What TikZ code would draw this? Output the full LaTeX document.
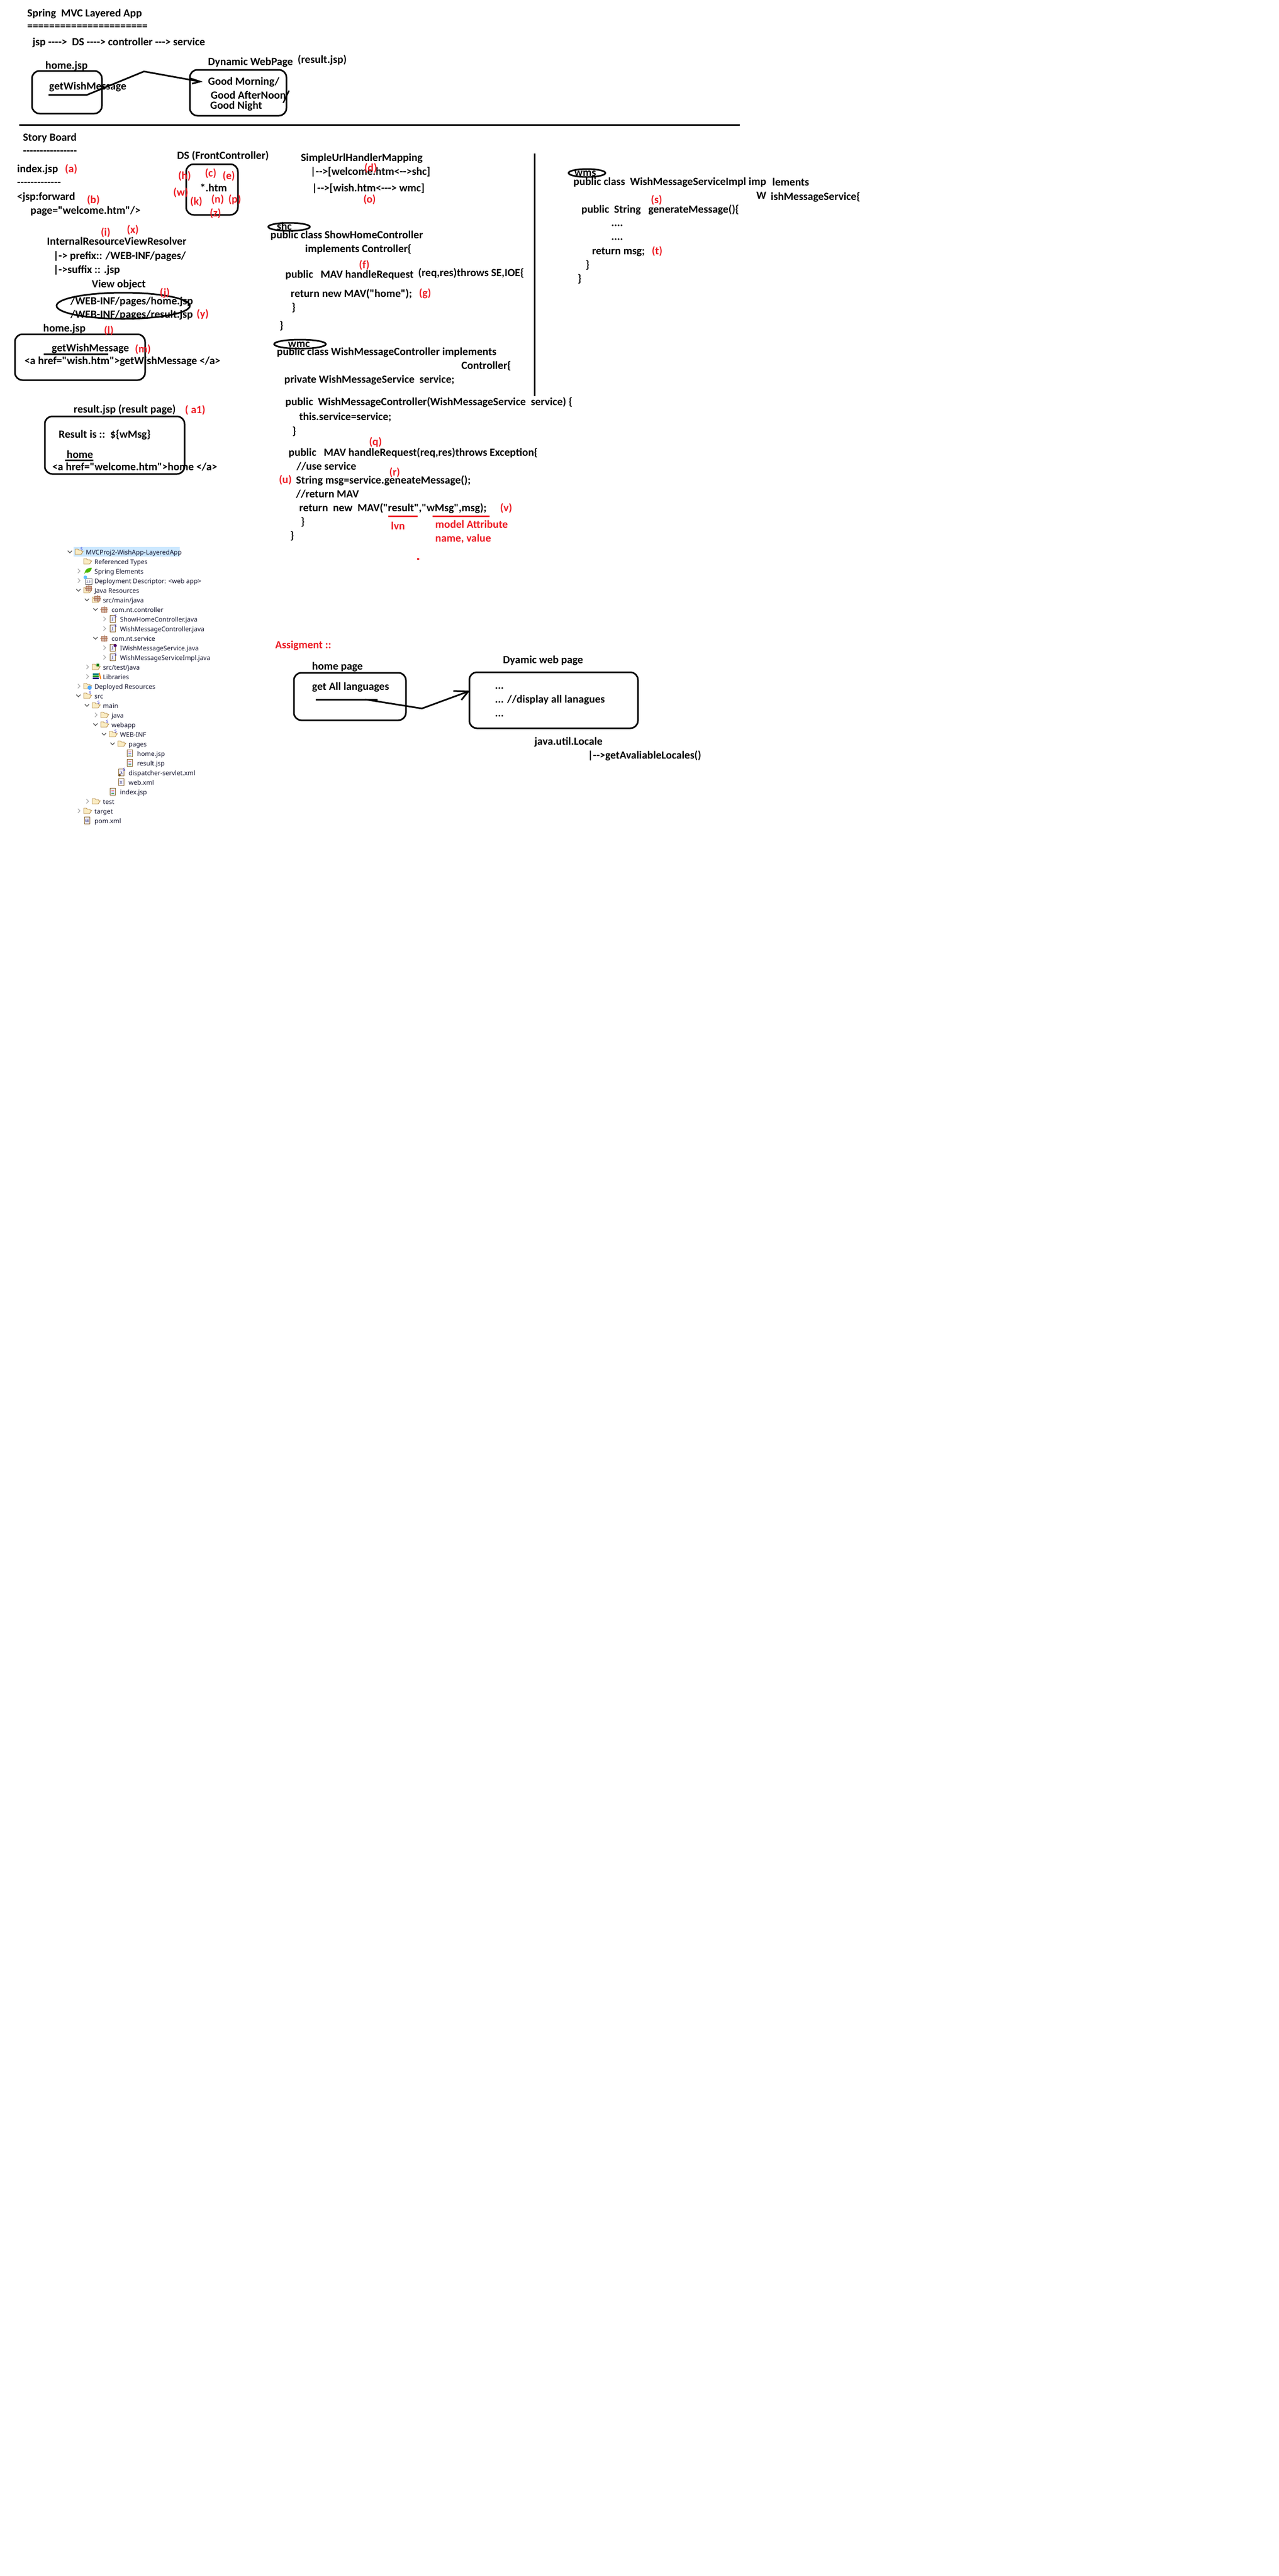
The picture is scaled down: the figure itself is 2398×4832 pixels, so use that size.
\documentclass[tikz,border=0pt]{standalone}
\usepackage{fontspec}
\usetikzlibrary{shapes.geometric,arrows.meta}
\newfontfamily\carl[BoldFont={Carlito Bold}]{Carlito}
\newfontfamily\segoe{Noto Sans}
\definecolor{redlab}{RGB}{237,28,36}
\definecolor{treetx}{RGB}{22,22,48}
\definecolor{hilite}{RGB}{204,232,255}
\definecolor{foldf}{RGB}{250,236,195}
\definecolor{foldd}{RGB}{176,132,62}
\definecolor{sblue}{RGB}{20,20,210}
\definecolor{pkg}{RGB}{170,110,80}
\tikzset{
 x=1pt,y=-1pt,
 txt/.style={anchor=base west,inner sep=0pt,font=\carl\bfseries\fontsize{20.6}{24}\selectfont,text=black},
 lab/.style={inner sep=0pt,font=\carl\bfseries\fontsize{20.6}{24}\selectfont,text=redlab},
 labt/.style={anchor=base west,inner sep=0pt,font=\carl\bfseries\fontsize{20.6}{24}\selectfont,text=redlab},
 rbox/.style={draw=black,line width=3pt,rounded corners=14pt,inner sep=0pt,fill=none},
 oval/.style={draw=black,line width=3pt,ellipse,inner sep=0pt,fill=none},
 ink/.style={draw=black,line width=3pt,line join=miter},
 tree/.style={anchor=base west,inner sep=0pt,font=\segoe\fontsize{12}{14}\selectfont,text=treetx},
 sbadge/.style={inner sep=0pt,font=\segoe\bfseries\fontsize{7.5}{8}\selectfont,text=sblue},
 glyph/.style={inner sep=0pt,font=\segoe\bfseries\fontsize{7}{8}\selectfont,text=black!70!blue},
 chevd/.style={draw=black!70,line width=1.3pt},
 chevr/.style={draw=black!35,line width=1.3pt},
}
% tree helpers: #1 = text x, #2 = row centre y
\newcommand\cvd[2]{\draw[chevd] (#1-34,#2-2) -- (#1-30,#2+2) -- (#1-26,#2-2);}
\newcommand\cvr[2]{\draw[chevr] (#1-31,#2-4) -- (#1-27,#2) -- (#1-31,#2+4);}
\newcommand\folder[2]{\fill[foldf,draw=foldd,line width=.9pt] (#1-20,#2+5) -- (#1-20,#2-5) -- (#1-15,#2-5) -- (#1-13,#2-3) -- (#1-8,#2-3) -- (#1-8,#2-1) -- (#1-5,#2-1) -- (#1-9,#2+5) -- cycle;}
\newcommand\sbg[3]{\node[sbadge] (#3) at (#1-8,#2-5) {S};}
\newcommand\pk[2]{\fill[pkg!55!white,draw=pkg,line width=.7pt] (#1-19,#2-4) rectangle (#1-9,#2+5);\draw[pkg,line width=.8pt] (#1-14,#2-6) -- (#1-14,#2+7) (#1-21,#2) -- (#1-7,#2);}
\newcommand\pg[2]{\fill[white!92!blue,draw=foldd!80!black,line width=.8pt] (#1-19,#2-7) rectangle (#1-9,#2+6);}
\newcommand\jsp[2]{\pg{#1}{#2}\draw[red!70,line width=.7pt] (#1-16,#2-3) -- (#1-11,#2-3);\draw[blue!60,line width=.7pt] (#1-16,#2) -- (#1-11,#2);\draw[green!60!black,line width=.7pt] (#1-16,#2+3) -- (#1-11,#2+3);}
\begin{document}
\begin{tikzpicture}
\useasboundingbox[fill=white] (0,0) rectangle (2398,4832);

% ---- header
\node[txt] (title) at (51,31) {Spring  \ MVC Layered App};
\node[txt] (rule) at (51,55) {======================};
\node[txt] (flow) at (61,85) {jsp ---->\ \ DS ----> controller ---> service};
\node[txt] (homelbl) at (85,129) {home.jsp};
\node[rbox,minimum width=131pt,minimum height=80pt] (homebox) at (125.5,173) {};
\node[txt] (getwish) at (92,168) {getWishMessage};
\node[txt] (dynlbl) at (390,122) {Dynamic WebPage};
\node[txt] (dynres) at (558,118) {(result.jsp)};
\node[rbox,minimum width=181pt,minimum height=86pt] (dynbox) at (446.5,174) {};
\node[txt] (gm) at (390,159) {Good Morning/};
\node[txt] (ga) at (395,185) {Good AfterNoon};
\node[txt] (gn) at (394,204) {Good Night};
\coordinate (a0) at (91,178);\coordinate (a1) at (163,178);\coordinate (a2) at (270,134);\coordinate (a3) at (375,153);
\coordinate (a4) at (357,147);\coordinate (a5) at (360,157);
\draw[ink] (a0) -- (a1) -- (a2) -- (a3);
\draw[ink] (a4) -- (a3) -- (a5);
\coordinate (s1) at (542,170);\coordinate (s2) at (531,193);
\draw[black,line width=2.5pt] (s1) -- (s2);
\coordinate (hl) at (36,234);\coordinate (hr) at (1387,234);
\draw[ink] (hl) -- (hr);

% ---- story board, left column
\node[txt] (story) at (43,264) {Story Board};
\node[txt] (storyr) at (43,289) {----------------};
\node[txt] (index) at (32,323) {index.jsp};
\node[txt] (indexr) at (32,348) {-------------};
\node[txt] (fwd) at (32,375) {<jsp:forward};
\node[txt] (page) at (57,401) {page="welcome.htm"/>};
\node[txt] (irvr) at (88,459) {InternalResourceViewResolver};
\node[txt] (prefix) at (100,486) {|-> prefix:: /WEB-INF/pages/};
\node[txt] (suffix) at (100,512) {|->suffix :: .jsp};
\node[txt] (viewobj) at (172,539) {View object};
\node[txt] (vhome) at (132,571) {/WEB-INF/pages/home.jsp};
\node[txt] (vres) at (132,596) {/WEB-INF/pages/result.jsp};
\node[oval,minimum width=250pt,minimum height=49pt] (voval) at (231,573.5) {};
\node[txt] (hj) at (81,622) {home.jsp};
\node[rbox,minimum width=244pt,minimum height=86pt] (hjbox) at (150,670) {};
\node[txt] (gw2) at (97,659) {getWishMessage};
\coordinate (ul1) at (82,664);\coordinate (ul2) at (203,664);
\draw[ink] (ul1) -- (ul2);
\node[txt] (href1) at (46,683) {<a href="wish.htm">getWishMessage </a>};
\node[txt] (rj) at (138,774) {result.jsp (result page)};
\node[rbox,minimum width=262pt,minimum height=108pt] (rjbox) at (215,835) {};
\node[txt] (resis) at (110,821) {Result is ::\ \ \$\{wMsg\}};
\node[txt] (rhome) at (125,859) {home};
\coordinate (ul3) at (122,863);\coordinate (ul4) at (175,863);
\draw[ink] (ul3) -- (ul4);
\node[txt] (href2) at (98,882) {<a href="welcome.htm">home </a>};

% ---- DS
\node[txt] (dsl) at (332,298) {DS (FrontController)};
\node[rbox,minimum width=97pt,minimum height=95pt] (dsbox) at (397.5,355.5) {};
\node[txt] (htm) at (375,359) {*.htm};

% ---- handler mapping
\node[txt] (sm) at (564,302) {SimpleUrlHandlerMapping};
\node[txt] (m1) at (582,328) {|-->[welcome.htm<-->shc]};
\node[txt] (m2) at (585,359) {|-->[wish.htm<---> wmc]};

% ---- ShowHomeController
\node[oval,minimum width=78pt,minimum height=15pt] (shcoval) at (542,425.5) {};
\node[txt] (shc) at (519,431) {shc};
\node[txt] (sh1) at (507,447) {public class ShowHomeController};
\node[txt] (sh2) at (572,473) {implements Controller\{};
\node[txt] (sh3) at (535,521) {public \ \ MAV handleRequest};
\node[txt] (sh3b) at (784,518) {(req,res)throws SE,IOE\{};
\node[txt] (sh4) at (545,557) {return new MAV("home");};
\node[txt] (sh5) at (547,583) {\}};
\node[txt] (sh6) at (524,617) {\}};

% ---- WishMessageController
\node[oval,minimum width=97pt,minimum height=17pt] (wmcoval) at (562.5,645.5) {};
\node[txt] (wmc) at (540,651) {wmc};
\node[txt] (w1) at (519,666) {public class WishMessageController implements};
\node[txt] (w2) at (865,692) {Controller\{};
\node[txt] (w3) at (533,718) {private WishMessageService\ \ service;};
\node[txt] (w4) at (535,760) {public\ \ WishMessageController(WishMessageService\ \ service) \{};
\node[txt] (w5) at (561,788) {this.service=service;};
\node[txt] (w6) at (548,815) {\}};
\node[txt] (w7) at (541,855) {public\ \ \ MAV handleRequest(req,res)throws Exception\{};
\node[txt] (w8) at (556,881) {//use service};
\node[txt] (w9) at (555,907) {String msg=service.geneateMessage();};
\node[txt] (w10) at (555,933) {//return MAV};
\node[txt] (w11) at (561,959) {return\ \ new\ \ MAV("result","wMsg",msg);};
\node[txt] (w12) at (564,985) {\}};
\node[txt] (w13) at (544,1011) {\}};
\coordinate (v1) at (1002,288);\coordinate (v2) at (1002,743);
\draw[ink] (v1) -- (v2);

% ---- service impl
\node[oval,minimum width=69pt,minimum height=15pt] (wmsoval) at (1100.5,324.5) {};
\node[txt] (wms) at (1077,330) {wms};
\node[txt] (i1) at (1075,347) {public class\ \ WishMessageServiceImpl imp};
\node[txt] (i1b) at (1448,348) {lements};
\node[txt] (i2a) at (1418,373) {W};
\node[txt] (i2b) at (1445,375) {ishMessageService\{};
\node[txt] (i3) at (1090,399) {public\ \ String\ \ \ generateMessage()\{};
\node[txt] (i4) at (1146,424) {....};
\node[txt] (i5) at (1146,450) {....};
\node[txt] (i6) at (1110,477) {return msg;};
\node[txt] (i7) at (1098,503) {\}};
\node[txt] (i8) at (1083,529) {\}};

% ---- assignment
\node[labt] (assign) at (516,1216) {Assigment ::};
\node[txt] (hp) at (585,1256) {home page};
\node[rbox,minimum width=210pt,minimum height=89pt] (hpbox) at (656,1306.5) {};
\node[txt] (gal) at (585,1294) {get All languages};
\node[txt] (dwp) at (943,1244) {Dyamic web page};
\node[rbox,minimum width=316pt,minimum height=105pt] (dwbox) at (1038,1313.5) {};
\node[txt] (d1) at (928,1292) {...};
\node[txt] (d2) at (928,1318) {... //display all lanagues};
\node[txt] (d3) at (928,1344) {...};
\node[txt] (loc) at (1002,1397) {java.util.Locale};
\node[txt] (gal2) at (1102,1423) {|-->getAvaliableLocales()};
\coordinate (b0) at (592,1312);\coordinate (b1) at (708,1312);\coordinate (b2) at (685,1312);
\coordinate (b3) at (791,1329);\coordinate (b4) at (878,1297);
\coordinate (b5) at (850,1296);\coordinate (b6) at (865,1313);
\draw[ink] (b0) -- (b1);
\draw[ink] (b2) -- (b3) -- (b4);
\draw[ink] (b5) -- (b4) -- (b6);

% ---- red labels
\node[lab] (la) at (133.5,317) {(a)};
\node[lab] (lb) at (175,375) {(b)};
\node[lab] (lh) at (346,330) {(h)};
\node[lab] (lc) at (395,325) {(c)};
\node[lab] (le) at (429,330) {(e)};
\node[lab] (lw) at (339,361) {(w)};
\node[lab] (lk) at (368,378) {(k)};
\node[lab] (ln) at (408,374) {(n)};
\node[lab] (lp) at (440,374) {(p)};
\node[lab] (lz) at (404,400) {(z)};
\node[lab] (ld) at (695,315) {(d)};
\node[lab] (lo) at (693,374) {(o)};
\node[lab] (lf) at (683,497) {(f)};
\node[lab] (lg) at (797,551) {(g)};
\node[lab] (li) at (198,436) {(i)};
\node[lab] (lx) at (249,431) {(x)};
\node[lab] (lj) at (309,550) {(j)};
\node[lab] (ly) at (380,589) {(y)};
\node[lab] (ll) at (204,620) {(l)};
\node[lab] (lm) at (268,655) {(m)};
\node[lab] (la1) at (366,769) {( a1)};
\node[lab] (lq) at (704,829) {(q)};
\node[lab] (lr) at (740,886) {(r)};
\node[lab] (lu) at (535,900) {(u)};
\node[lab] (lv) at (949,953) {(v)};
\node[lab] (ls) at (1231,375) {(s)};
\node[lab] (lt) at (1232,471) {(t)};
\node[labt] (lvn) at (733,993) {lvn};
\node[labt] (mattr) at (816,990) {model Attribute};
\node[labt] (mname) at (816,1016) {name, value};
\coordinate (r1) at (728,968);\coordinate (r2) at (783,968);\coordinate (r3) at (811,968);\coordinate (r4) at (918,968);
\draw[redlab,line width=3pt] (r1) -- (r2) (r3) -- (r4);
\fill[redlab] (782,1047) rectangle (786,1050);

% ---- project tree
\fill[hilite] (138,1026) rectangle (337,1044);
\cvd{161}{1035}\folder{161}{1035}\sbg{161}{1035}{sb0}
\node[tree] (t0) at (161,1040) {MVCProj2-WishApp-LayeredApp};
\folder{177}{1053}
\node[tree] (t1) at (177,1058) {Referenced Types};
\cvr{177}{1071}\fill[green!60!black!70!yellow] (158,1077) .. controls (160,1066) and (166,1065) .. (172,1065) .. controls (172,1071) and (166,1076) .. (160,1074) -- cycle;
\node[tree] (t2) at (177,1076) {Spring Elements};
\cvr{177}{1089}\fill[white,draw=black!60,line width=.7pt] (160,1085) rectangle (172,1096);\fill[blue!40!cyan!60] (160,1083) circle (3.5pt);
\node[glyph] (g23) at (166,1091.5) {\fontsize{5.5}{6}\selectfont 2.3};
\node[tree] (t3) at (177,1094) {Deployment Descriptor: <web app>};
\cvd{177}{1107}\folder{177}{1107}\pk{180}{1103}
\node[tree] (t4) at (177,1112) {Java Resources};
\cvd{193}{1125}\folder{193}{1125}\pk{196}{1122}
\node[tree] (t5) at (193,1130) {src/main/java};
\cvd{209}{1143}\pk{209}{1143}
\node[tree] (t6) at (209,1148) {com.nt.controller};
\cvr{225}{1161}\pg{225}{1161}\node[glyph] (j1) at (211,1162) {J};\sbg{225}{1161}{sb1}
\node[tree] (t7) at (225,1166) {ShowHomeController.java};
\cvr{225}{1179}\pg{225}{1179}\node[glyph] (j2) at (211,1180) {J};\sbg{225}{1179}{sb2}
\node[tree] (t8) at (225,1184) {WishMessageController.java};
\cvd{209}{1197}\pk{209}{1197}
\node[tree] (t9) at (209,1202) {com.nt.service};
\cvr{225}{1215}\pg{225}{1215}\node[glyph] (j3) at (211,1216) {J};\fill[black!40!blue!70!red] (216,1211) circle (3pt);
\node[tree] (t10) at (225,1220) {IWishMessageService.java};
\cvr{225}{1233}\pg{225}{1233}\node[glyph] (j4) at (211,1234) {J};\sbg{225}{1233}{sb3}
\node[tree] (t11) at (225,1238) {WishMessageServiceImpl.java};
\cvr{193}{1251}\folder{193}{1251}\fill[green!50!black] (181,1245) rectangle (186,1250);
\node[tree] (t12) at (193,1256) {src/test/java};
\cvr{193}{1269}\fill[teal] (174,1263) rectangle (185,1266);\fill[green!60!black] (174,1267) rectangle (185,1270);\fill[blue!50!black] (174,1271) rectangle (185,1274);\draw[orange,line width=2pt] (186,1262) -- (189,1274);
\node[tree] (t13) at (193,1274) {Libraries};
\cvr{177}{1287}\folder{177}{1287}\fill[blue!50!cyan!70] (168,1290) circle (4pt);
\node[tree] (t14) at (177,1292) {Deployed Resources};
\cvd{177}{1305}\folder{177}{1305}\sbg{177}{1305}{sb4}
\node[tree] (t15) at (177,1310) {src};
\cvd{193}{1323}\folder{193}{1323}\sbg{193}{1323}{sb5}
\node[tree] (t16) at (193,1328) {main};
\cvr{209}{1341}\folder{209}{1341}
\node[tree] (t17) at (209,1346) {java};
\cvd{209}{1359}\folder{209}{1359}\sbg{209}{1359}{sb6}
\node[tree] (t18) at (209,1364) {webapp};
\cvd{225}{1377}\folder{225}{1377}\sbg{225}{1377}{sb7}
\node[tree] (t19) at (225,1382) {WEB-INF};
\cvd{241}{1395}\folder{241}{1395}
\node[tree] (t20) at (241,1400) {pages};
\jsp{257}{1413}
\node[tree] (t21) at (257,1418) {home.jsp};
\jsp{257}{1431}
\node[tree] (t22) at (257,1436) {result.jsp};
\pg{241}{1449}\node[glyph] (lam) at (228,1450) {\fontsize{7}{8}\selectfont λ};\sbg{241}{1449}{sb8}\fill[foldd!70!black] (224,1454) circle (2.5pt);
\node[tree] (t23) at (241,1454) {dispatcher-servlet.xml};
\pg{241}{1467}\node[glyph] (xx) at (227,1468) {X};
\node[tree] (t24) at (241,1472) {web.xml};
\jsp{225}{1485}
\node[tree] (t25) at (225,1490) {index.jsp};
\cvr{193}{1503}\folder{193}{1503}
\node[tree] (t26) at (193,1508) {test};
\cvr{177}{1521}\folder{177}{1521}
\node[tree] (t27) at (177,1526) {target};
\pg{177}{1539}\node[glyph] (mm) at (163,1540) {M};
\node[tree] (t28) at (177,1544) {pom.xml};
\end{tikzpicture}
\end{document}
